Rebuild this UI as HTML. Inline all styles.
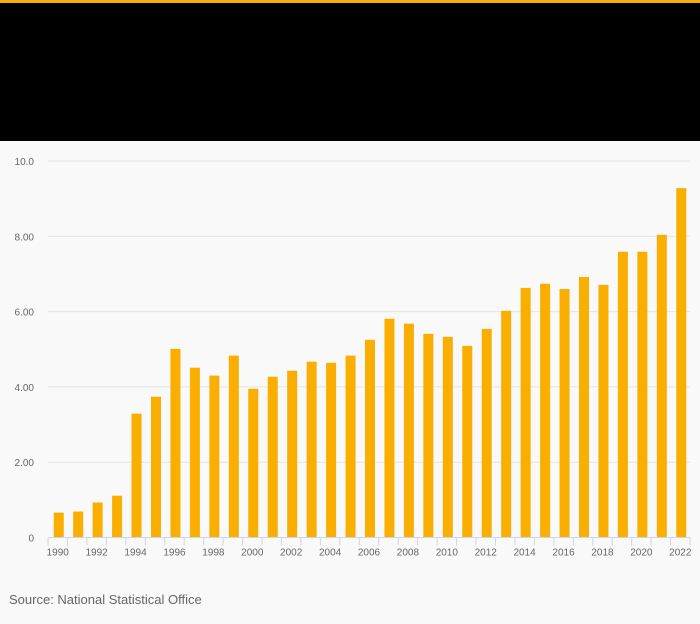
<!DOCTYPE html>
<html><head><meta charset="utf-8"><style>
body{margin:0;width:700px;height:624px;background:#f9f9f9;font-family:"Liberation Sans",sans-serif;overflow:hidden}
#top{position:absolute;left:0;top:0;width:700px;height:141px;background:#000;border-top:3px solid #f9ae00;box-sizing:border-box}
svg{position:absolute;left:0;top:0}
</style></head><body>
<div id="top"></div>
<svg id="chart" width="700" height="624"></svg>
<script>
const years=[1990,1991,1992,1993,1994,1995,1996,1997,1998,1999,2000,2001,2002,2003,2004,2005,2006,2007,2008,2009,2010,2011,2012,2013,2014,2015,2016,2017,2018,2019,2020,2021,2022];
const values=[0.66,0.69,0.93,1.11,3.29,3.74,5.01,4.51,4.30,4.83,3.95,4.27,4.43,4.67,4.64,4.83,5.25,5.81,5.68,5.41,5.33,5.09,5.54,6.02,6.63,6.74,6.60,6.92,6.71,7.59,7.59,8.04,9.28];
const yTicks=[0,2,4,6,8,10];
const yTickLabels=["0","2.00","4.00","6.00","8.00","10.0"];
const NS="http://www.w3.org/2000/svg";
const svg=document.getElementById('chart');
const x0=48,x1=690,yBase=537.5,yTop=161;
const band=(x1-x0)/years.length;
function y(v){return yBase-(v/10)*(yBase-yTop);}
function xc(i){return x0+band*(i+0.5);}
function mk(t,a){const e=document.createElementNS(NS,t);for(const k in a)e.setAttribute(k,a[k]);svg.appendChild(e);return e;}
yTicks.forEach((t,i)=>{
  if(t>0){const g=mk('line',{x1:x0,x2:x1,y1:y(t),y2:y(t),stroke:'#e4e4e4','stroke-width':1});
  
  }
  const l=mk('text',{x:34,y:y(t)+4,'text-anchor':'end','font-size':10,fill:'#666'});
  l.textContent=yTickLabels[i];
  
  
});
values.forEach((v,i)=>{
  const r=mk('rect',{x:xc(i)-4,y:y(v),width:10,height:yBase-y(v),fill:'#f9ae00'});
  
  
});
const ax=mk('line',{x1:x0,x2:x1,y1:yBase,y2:yBase,stroke:'#ccd6eb','stroke-width':1});


for(let i=0;i<=years.length;i++){
  const t=mk('line',{x1:x0+band*i,x2:x0+band*i,y1:yBase,y2:yBase+8,stroke:'#ccd6eb','stroke-width':1});
  
  
}
years.forEach((yr,i)=>{
  if(i%2)return;
  const l=mk('text',{x:xc(i),y:yBase+18,'text-anchor':'middle','font-size':10,fill:'#666'});
  l.textContent=yr;
  
  
});
const s=mk('text',{x:9,y:604,'font-size':13,fill:'#666'});
s.textContent='Source: National Statistical Office';


</script>
</body></html>
